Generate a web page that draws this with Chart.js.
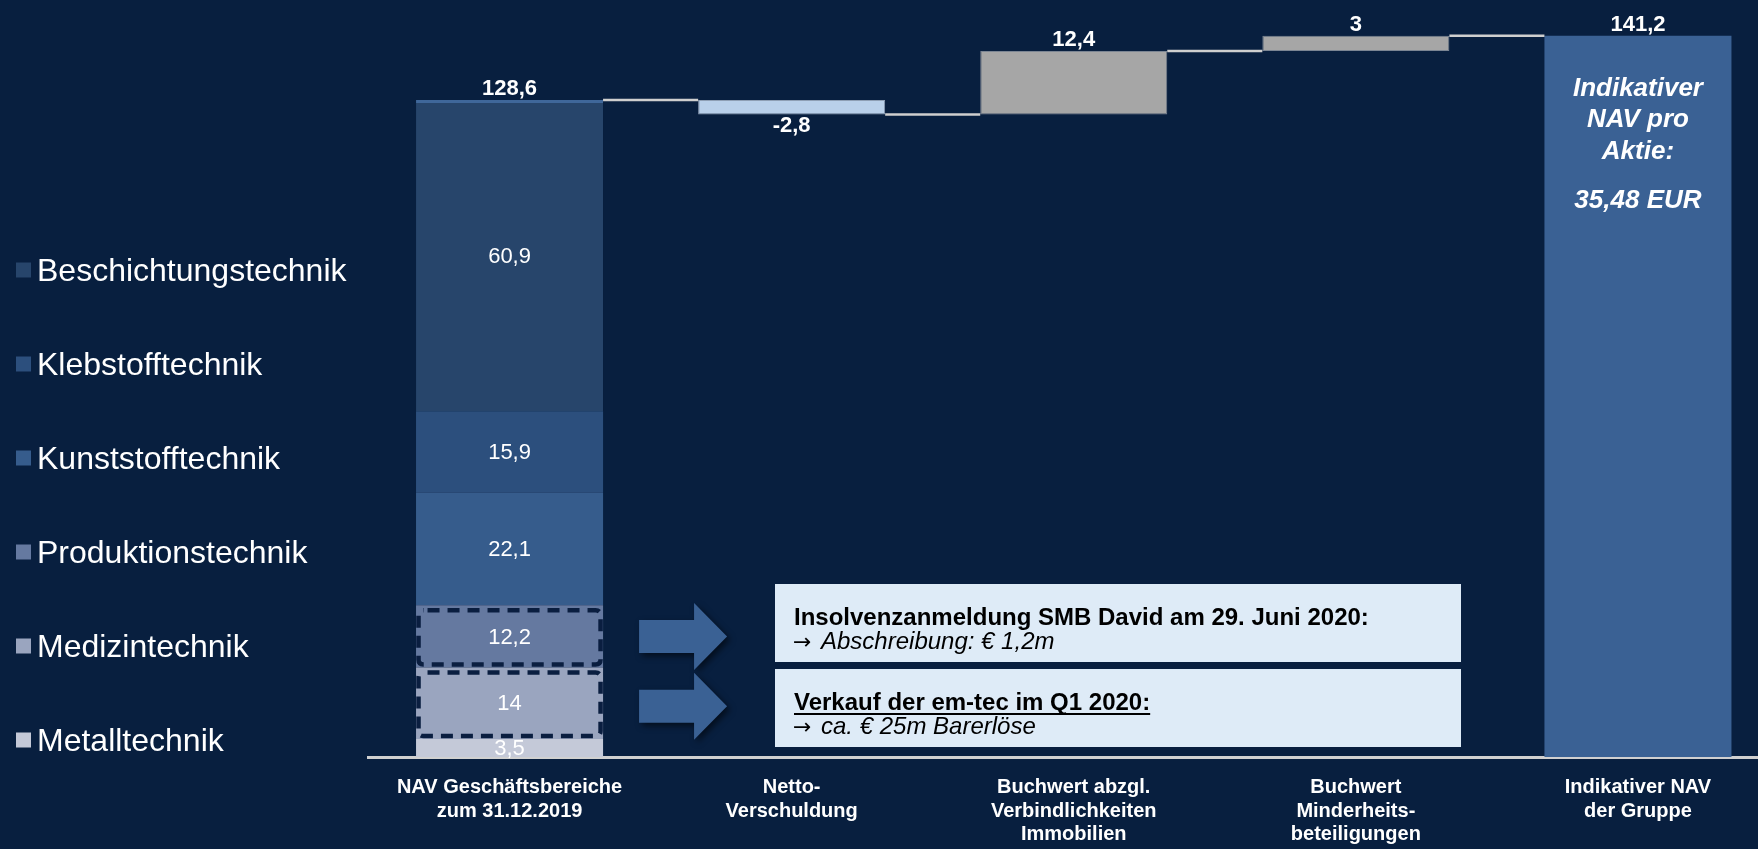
<!DOCTYPE html>
<html>
<head>
<meta charset="utf-8">
<script src="https://cdn.jsdelivr.net/npm/chart.js@4.4.1/dist/chart.umd.min.js"></script>
<style>
    html, body { margin: 0; padding: 0; background: #081f3f; overflow: hidden; }
    canvas { display: block; }
</style>
</head>
<body>
<canvas id="navChart" width="1779" height="849"></canvas>
<script>
const categories = [
    ['NAV Geschäftsbereiche', 'zum 31.12.2019'],
    ['Netto-', 'Verschuldung'],
    ['Buchwert abzgl.', 'Verbindlichkeiten', 'Immobilien'],
    ['Buchwert', 'Minderheits-', 'beteiligungen'],
    ['Indikativer NAV', 'der Gruppe']
];

// segments of the first bar, bottom to top
const segmentNames = ['Metalltechnik', 'Medizintechnik', 'Produktionstechnik', 'Kunststofftechnik', 'Klebstofftechnik', 'Beschichtungstechnik'];
const segmentValues = [3.5, 14, 12.2, 22.1, 15.9, 60.9];
const segmentColors = ['#c4c9d8', '#9aa5bf', '#6579a0', '#365c8c', '#2c4f7d', '#27456b'];

const startTotal = 128.6;
const bridgeValues = [-2.8, 12.4, 3];
const endTotal = 141.2;

const navTextLines = ['Indikativer', 'NAV pro', 'Aktie:'];
const navPerShare = '35,48 EUR';

const notes = [
    { title: 'Insolvenzanmeldung SMB David am 29. Juni 2020:', text: 'Abschreibung: \u20ac 1,2m', underline: false },
    { title: 'Verkauf der em-tec im Q1 2020:', text: 'ca. \u20ac 25m Barerl\u00f6se', underline: true }
];

const FONT = "'Liberation Sans', Arial, sans-serif";
const fmt = (v) => String(Math.round(v * 10) / 10).replace('.', ',');

// build floating ranges
let cum = 0;
const segmentDatasets = segmentValues.map((v, i) => {
    const d = [[cum, cum + v], null, null, null, null];
    cum += v;
    const top = i === segmentValues.length - 1;
    return {
        label: segmentNames[i],
        data: d,
        backgroundColor: segmentColors[i],
        borderColor: '#3f679a',
        borderWidth: top ? { top: 3, left: 0, right: 0, bottom: 0 } : 0,
        borderSkipped: false
    };
});

let level = startTotal;
const levels = [startTotal];
const bridgeData = [null];
bridgeValues.forEach(v => {
    bridgeData.push([Math.min(level, level + v), Math.max(level, level + v)]);
    level += v;
    levels.push(level);
});
bridgeData.push([0, endTotal]);

const bridgeDataset = {
    label: 'bridge',
    data: bridgeData,
    backgroundColor: ['transparent', '#b9d0ea', '#a6a6a6', '#a6a6a6', '#3a6194'],
    borderColor: ['transparent', '#8e9fb5', '#7b8593', '#7b8593', '#3a6194'],
    borderWidth: [0, 1, 1, 1, 0],
    borderSkipped: false
};

function drawArrow(ctx, x0, cy) {
    ctx.save();
    ctx.shadowColor = 'rgba(0,0,0,0.55)';
    ctx.shadowBlur = 6;
    ctx.shadowOffsetX = 3;
    ctx.shadowOffsetY = 3;
    ctx.fillStyle = '#3a6194';
    ctx.beginPath();
    ctx.moveTo(x0, cy - 16.5);
    ctx.lineTo(x0 + 55, cy - 16.5);
    ctx.lineTo(x0 + 55, cy - 33.5);
    ctx.lineTo(x0 + 88, cy);
    ctx.lineTo(x0 + 55, cy + 33.5);
    ctx.lineTo(x0 + 55, cy + 16.5);
    ctx.lineTo(x0, cy + 16.5);
    ctx.closePath();
    ctx.fill();
    ctx.restore();
}

function roundRect(ctx, x, y, w, h, r) {
    ctx.beginPath();
    ctx.moveTo(x + r, y);
    ctx.lineTo(x + w - r, y);
    ctx.quadraticCurveTo(x + w, y, x + w, y + r);
    ctx.lineTo(x + w, y + h - r);
    ctx.quadraticCurveTo(x + w, y + h, x + w - r, y + h);
    ctx.lineTo(x + r, y + h);
    ctx.quadraticCurveTo(x, y + h, x, y + h - r);
    ctx.lineTo(x, y + r);
    ctx.quadraticCurveTo(x, y, x + r, y);
    ctx.closePath();
}

const overlayPlugin = {
    id: 'overlay',
    afterDatasetsDraw(chart) {
        const ctx = chart.ctx;
        const yScale = chart.scales.y;
        const segEls = segmentNames.map((n, i) => chart.getDatasetMeta(i).data[0]);
        const bridgeEls = chart.getDatasetMeta(segmentNames.length).data;
        const topSeg = segEls[segEls.length - 1];
        const cols = [topSeg, bridgeEls[1], bridgeEls[2], bridgeEls[3], bridgeEls[4]];
        const topOf = el => Math.min(el.y, el.base);
        const bottomOf = el => Math.max(el.y, el.base);

        ctx.save();

        // connector lines
        ctx.strokeStyle = '#cfcfcf';
        ctx.lineWidth = 2.5;
        levels.forEach((lv, i) => {
            const py = yScale.getPixelForValue(lv);
            const a = cols[i], b = cols[i + 1];
            ctx.beginPath();
            ctx.moveTo(a.x + a.width / 2, py);
            ctx.lineTo(b.x - b.width / 2, py);
            ctx.stroke();
        });

        // dashed boxes round Produktion / Medizin
        [2, 1].forEach(i => {
            const el = segEls[i];
            ctx.save();
            ctx.strokeStyle = '#0a1e40';
            ctx.lineWidth = 4.5;
            ctx.setLineDash([12, 8]);
            ctx.lineDashOffset = -4;
            const t = topOf(el) + 5, b = bottomOf(el) - 3;
            roundRect(ctx, el.x - el.width / 2 + 2.5, t, el.width - 5, b - t, 5);
            ctx.stroke();
            ctx.restore();
        });

        // segment labels
        ctx.fillStyle = '#ffffff';
        ctx.textAlign = 'center';
        ctx.textBaseline = 'middle';
        ctx.font = '22px ' + FONT;
        segEls.forEach((el, i) => {
            ctx.fillText(fmt(segmentValues[i]), el.x, (el.y + el.base) / 2 + 1);
        });

        // value labels
        ctx.font = 'bold 22px ' + FONT;
        ctx.fillText(fmt(startTotal), topSeg.x, topOf(topSeg) - 11);
        bridgeValues.forEach((v, i) => {
            const el = bridgeEls[i + 1];
            if (v < 0) ctx.fillText(fmt(v), el.x, bottomOf(el) + 12);
            else ctx.fillText(fmt(v), el.x, topOf(el) - 11);
        });
        const endEl = bridgeEls[4];
        ctx.fillText(fmt(endTotal), endEl.x, topOf(endEl) - 11);

        // text inside the last bar
        ctx.font = 'italic bold 26px ' + FONT;
        ctx.textBaseline = 'alphabetic';
        navTextLines.forEach((t, k) => {
            ctx.fillText(t, endEl.x, topOf(endEl) + 60 + k * 31.5);
        });
        ctx.fillText(navPerShare, endEl.x, topOf(endEl) + 172);

        // legend
        ctx.textAlign = 'left';
        ctx.font = '32px ' + FONT;
        for (let k = 0; k < segmentNames.length; k++) {
            const i = segmentNames.length - 1 - k;
            const cy = 270 + k * 94;
            ctx.fillStyle = segmentColors[i];
            ctx.fillRect(16, cy - 7.5, 15, 15);
            ctx.fillStyle = '#ffffff';
            ctx.fillText(segmentNames[i], 37, cy + 11);
        }

        // arrows
        const arrowX = topSeg.x + topSeg.width / 2 + 36;
        drawArrow(ctx, arrowX, (segEls[2].y + segEls[2].base) / 2);
        drawArrow(ctx, arrowX, (segEls[1].y + segEls[1].base) / 2 + 3);

        // note boxes
        const boxX = 775, boxW = 686, boxH = 78;
        const boxYs = [584, 669];
        notes.forEach((n, k) => {
            const by = boxYs[k];
            ctx.fillStyle = '#deebf7';
            ctx.fillRect(boxX, by, boxW, boxH);
            ctx.fillStyle = '#000000';
            ctx.font = 'bold 24px ' + FONT;
            ctx.fillText(n.title, boxX + 19, by + 41);
            if (n.underline) {
                const w = ctx.measureText(n.title).width;
                ctx.fillRect(boxX + 19, by + 44, w, 2);
            }
            ctx.font = "22px 'DejaVu Sans', sans-serif";
            ctx.fillText('\u2192', boxX + 18, by + 65);
            ctx.font = 'italic 24px ' + FONT;
            ctx.fillText(n.text, boxX + 46, by + 65);
        });

        ctx.restore();
    }
};

new Chart(document.getElementById('navChart'), {
    type: 'bar',
    data: {
        labels: categories,
        datasets: [...segmentDatasets, bridgeDataset]
    },
    options: {
        responsive: false,
        animation: false,
        categoryPercentage: 1,
        barPercentage: 0.663,
        layout: { padding: { left: 368.5, right: 0, top: 0, bottom: 0 } },
        scales: {
            x: {
                stacked: true,
                grid: { display: false, drawTicks: false },
                border: { display: true, color: '#d0d0d0', width: 3 },
                ticks: {
                    color: '#ffffff',
                    padding: 19,
                    maxRotation: 0,
                    autoSkip: false,
                    font: { family: FONT, size: 20, weight: 'bold', lineHeight: 1.17 }
                },
                afterFit: (scale) => { scale.height = 92; }
            },
            y: {
                display: false,
                stacked: false,
                min: 0,
                max: 148.2
            }
        },
        plugins: {
            legend: { display: false },
            tooltip: { enabled: false }
        }
    },
    plugins: [overlayPlugin]
});
</script>
</body>
</html>
